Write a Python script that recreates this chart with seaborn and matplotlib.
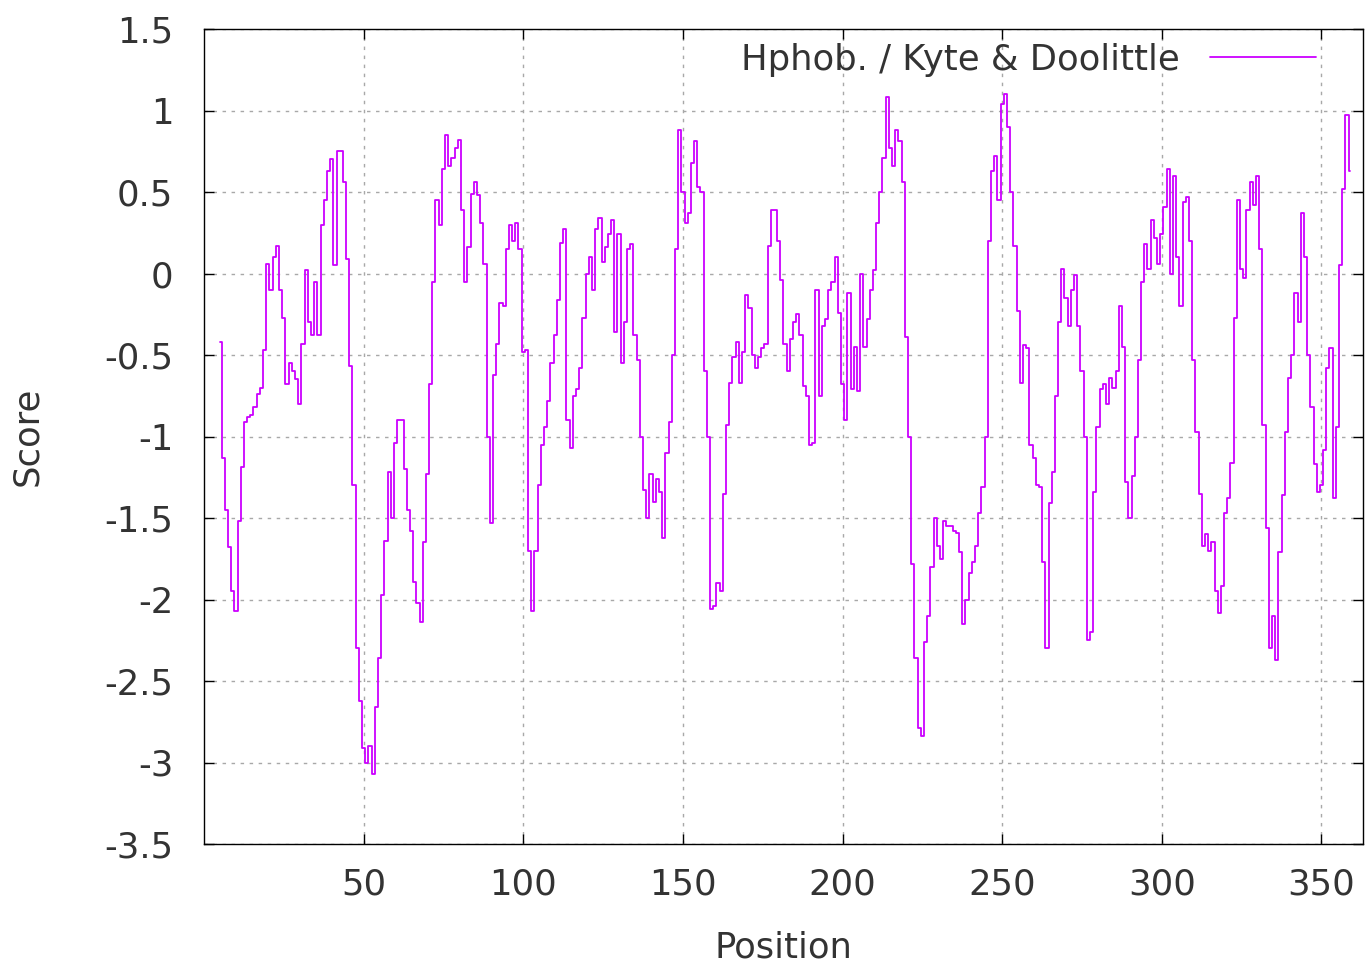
import matplotlib
matplotlib.use("Agg")
import matplotlib.pyplot as plt
import numpy as np
import pandas as pd
import seaborn as sns

# Kyte & Doolittle hydrophobicity profile, one score per residue position (5..359)
score = [
    -0.42, -1.13, -1.45, -1.68, -1.95, -2.07, -1.52, -1.19, -0.91, -0.88,
    -0.87, -0.82, -0.74, -0.70, -0.47, 0.06, -0.10, 0.10, 0.17, -0.10,
    -0.27, -0.68, -0.55, -0.60, -0.65, -0.80, -0.43, 0.02, -0.30, -0.38,
    -0.05, -0.38, 0.30, 0.45, 0.63, 0.70, 0.05, 0.75, 0.75, 0.56,
    0.09, -0.57, -1.30, -2.30, -2.62, -2.91, -3.00, -2.90, -3.07, -2.66,
    -2.36, -1.97, -1.64, -1.22, -1.50, -1.04, -0.90, -0.90, -1.20, -1.45,
    -1.58, -1.89, -2.02, -2.14, -1.65, -1.23, -0.68, -0.05, 0.45, 0.30,
    0.64, 0.85, 0.66, 0.71, 0.77, 0.82, 0.39, -0.05, 0.16, 0.49,
    0.56, 0.48, 0.31, 0.06, -1.00, -1.53, -0.62, -0.43, -0.18, -0.20,
    0.15, 0.30, 0.20, 0.31, 0.15, -0.48, -0.47, -1.70, -2.07, -1.70,
    -1.30, -1.05, -0.94, -0.78, -0.55, -0.38, -0.16, 0.19, 0.27, -0.90,
    -1.07, -0.75, -0.71, -0.58, -0.27, 0.00, 0.10, -0.10, 0.27, 0.34,
    0.07, 0.16, 0.24, 0.33, -0.36, 0.24, -0.55, -0.30, 0.15, 0.18,
    -0.38, -0.53, -1.00, -1.33, -1.50, -1.23, -1.40, -1.26, -1.34, -1.62,
    -1.10, -0.91, -0.50, 0.15, 0.88, 0.50, 0.31, 0.37, 0.68, 0.81,
    0.53, 0.50, -0.60, -1.00, -2.06, -2.04, -1.90, -1.95, -1.35, -0.93,
    -0.67, -0.51, -0.42, -0.67, -0.48, -0.13, -0.21, -0.50, -0.58, -0.51,
    -0.46, -0.43, 0.17, 0.39, 0.39, 0.20, -0.04, -0.43, -0.60, -0.40,
    -0.30, -0.25, -0.38, -0.69, -0.75, -1.05, -1.04, -0.10, -0.75, -0.32,
    -0.28, -0.10, -0.05, 0.10, -0.24, -0.68, -0.90, -0.12, -0.71, -0.45,
    -0.72, 0.00, -0.45, -0.28, -0.10, 0.02, 0.31, 0.50, 0.71, 1.08,
    0.77, 0.66, 0.88, 0.81, 0.56, -0.39, -1.00, -1.78, -2.36, -2.79,
    -2.84, -2.26, -2.10, -1.80, -1.50, -1.67, -1.75, -1.52, -1.55, -1.55,
    -1.58, -1.59, -1.71, -2.15, -2.00, -1.84, -1.77, -1.67, -1.47, -1.31,
    -1.00, 0.20, 0.63, 0.72, 0.45, 1.04, 1.10, 0.90, 0.50, 0.17,
    -0.23, -0.67, -0.44, -0.46, -1.05, -1.13, -1.30, -1.31, -1.77, -2.30,
    -1.41, -1.22, -0.75, -0.30, 0.03, -0.15, -0.32, -0.10, -0.01, -0.32,
    -0.60, -1.00, -2.25, -2.20, -1.34, -0.94, -0.71, -0.68, -0.80, -0.64,
    -0.70, -0.60, -0.20, -0.45, -1.28, -1.50, -1.24, -1.00, -0.53, -0.05,
    0.18, 0.03, 0.33, 0.22, 0.06, 0.24, 0.41, 0.64, 0.00, 0.60,
    0.10, -0.20, 0.44, 0.47, 0.20, -0.53, -0.97, -1.35, -1.67, -1.60,
    -1.70, -1.65, -1.95, -2.08, -1.92, -1.47, -1.38, -1.16, -0.27, 0.45,
    0.03, -0.03, 0.39, 0.56, 0.42, 0.60, 0.15, -0.93, -1.56, -2.30,
    -2.10, -2.37, -1.71, -1.36, -0.97, -0.64, -0.50, -0.12, -0.30, 0.37,
    0.10, -0.50, -0.82, -1.17, -1.34, -1.30, -1.08, -0.58, -0.46, -1.38,
    -0.94, 0.05, 0.52, 0.97, 0.63,
]
first_position = 5
position = list(range(first_position, first_position + len(score)))

x_ticks = [50, 100, 150, 200, 250, 300, 350]
y_ticks = [-3.5, -3, -2.5, -2, -1.5, -1, -0.5, 0, 0.5, 1, 1.5]
series_name = "Hphob. / Kyte & Doolittle"

df = pd.DataFrame({"Position": position, "Score": score})

sns.set_style("ticks")
plt.rcParams["font.family"] = ["DejaVu Sans"]
plt.rcParams["axes.unicode_minus"] = False

text_color = "#333333"
fs = 25.5

fig = plt.figure(figsize=(13.66, 9.66), dpi=100)
ax = fig.add_axes([204 / 1366, 1 - 844 / 966, (1363 - 204) / 1366, (844 - 29) / 966])

sns.lineplot(data=df, x="Position", y="Score", ax=ax, color="#cc00ff",
             linewidth=1.3, drawstyle="steps-mid", label=series_name)

ax.set_xlim(0, 363)
ax.set_ylim(-3.5, 1.5)
ax.set_xticks(x_ticks)
ax.set_yticks(y_ticks)
ax.set_yticklabels([f"{v:g}" for v in y_ticks])
ax.grid(True, color="#a8a8a8", linestyle=(0, (2.5, 4)), linewidth=1.0)

for spine in ax.spines.values():
    spine.set_visible(True)
    spine.set_color("black")
    spine.set_linewidth(1.0)

ax.tick_params(direction="in", length=7, width=1.0, top=True, right=True,
               labelsize=fs, labelcolor=text_color, color="black")
ax.tick_params(axis="x", pad=17)
ax.tick_params(axis="y", pad=22)

ax.set_xlabel("Position", fontsize=fs, color=text_color, labelpad=21)
ax.set_ylabel("Score", fontsize=fs, color=text_color, labelpad=43)

ax.legend(loc="upper right", bbox_to_anchor=((1316 - 204) / 1159, 0.983),
          frameon=False, markerfirst=False, handlelength=3.0,
          handletextpad=0.85, borderpad=0, borderaxespad=0,
          fontsize=fs, labelcolor=text_color)

fig.savefig("out.png", dpi=100)
plt.close(fig)
